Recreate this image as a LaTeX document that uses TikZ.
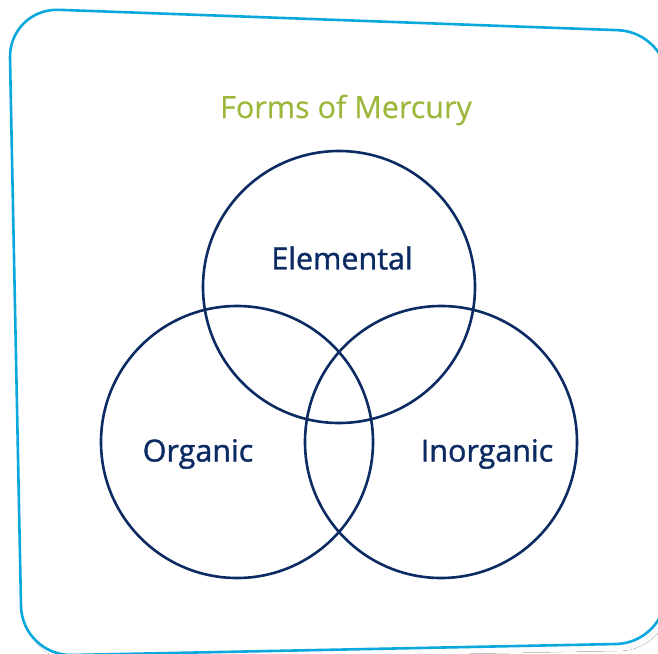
\documentclass[tikz,border=0pt]{standalone}
\usepackage{fontspec}
\setmainfont{Open Sans}
\definecolor{navy}{HTML}{0B2B62}
\definecolor{olive}{HTML}{9CB83A}
\definecolor{cyanb}{HTML}{0AA8DC}
\definecolor{shade}{HTML}{E6E7EC}
\begin{document}
\begin{tikzpicture}[x=1pt,y=-1pt,
  ring/.style={draw=navy,line width=2.6pt},
  lbl/.style={text=navy,font=\fontsize{30.5}{34}\selectfont\addfontfeature{FakeBold=1.2},inner sep=0pt},
  ttl/.style={text=olive,font=\fontsize{30.5}{34}\selectfont\addfontfeature{FakeBold=0.3},inner sep=0pt},
  frame/.style={draw=cyanb,line width=2.6pt,rounded corners=50pt}]
\useasboundingbox (0,0) rectangle (658,653);
\begin{scope}
\clip (0,0) rectangle (658,653);
\fill[shade,rounded corners=50pt] (13,12) -- (672,36) -- (670,650) -- (26,662) -- cycle;
\filldraw[frame,fill=white] (9,8) -- (668,32) -- (666,643) -- (22,656) -- cycle;
\end{scope}
\node[ttl] (title) at (346,110) {Forms of Mercury};
\draw[ring] (339,287) circle (136);
\draw[ring] (237,442) circle (136);
\draw[ring] (441,442) circle (136);
\node[lbl] (elem) at (342,258) {Elemental};
\node[lbl] (org) at (198,454) {Organic};
\node[lbl] (inorg) at (487,454) {Inorganic};
\end{tikzpicture}
\end{document}
